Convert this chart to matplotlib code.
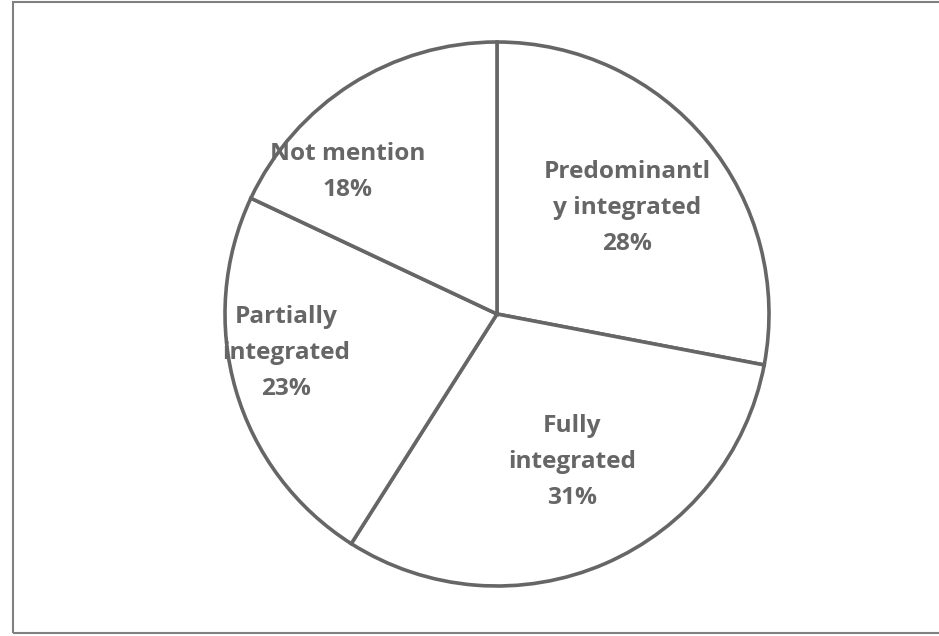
import matplotlib.pyplot as plt
from matplotlib.patches import Rectangle

# --- Data ---
labels = ['Predominantl\ny integrated', 'Fully\nintegrated', 'Partially\nintegrated', 'Not mention']
shares = [28, 31, 23, 18]

# label centres in pie-radius units (Excel "best fit" placement)
label_pos = [(0.478, 0.39), (0.276, -0.544), (-0.775, -0.143), (-0.548, 0.522)]

W, H, DPI = 939, 636, 100
R_PX = 272           # pie radius in pixels
CX, CY = 497, 314    # pie centre in pixels (from top-left)
LINE = '#666666'
TEXT = '#666666'

fig = plt.figure(figsize=(W / DPI, H / DPI), dpi=DPI)
ax = fig.add_axes([0, 0, 1, 1])

wedges, _ = ax.pie(shares, startangle=90, counterclock=False, radius=1,
                   colors=['white'] * len(shares),
                   wedgeprops=dict(edgecolor=LINE, linewidth=2.6))

for lab, val, (x, y) in zip(labels, shares, label_pos):
    ax.text(x, y, f'{lab}\n{val}%', ha='center', va='center',
            fontsize=17.6, fontweight='bold', color=TEXT,
            family='Open Sans', linespacing=1.68)

ax.set_xlim(-CX / R_PX, (W - CX) / R_PX)
ax.set_ylim(-(H - CY) / R_PX, CY / R_PX)
ax.set_aspect('auto')
ax.axis('off')

# chart frame
fig.patches.append(Rectangle((13 / W, 1 - 633 / H), (W + 10 - 13) / W, (633 - 2) / H,
                             transform=fig.transFigure, fill=False,
                             edgecolor='#808080', linewidth=1.5))

fig.savefig('out.png', dpi=DPI)
